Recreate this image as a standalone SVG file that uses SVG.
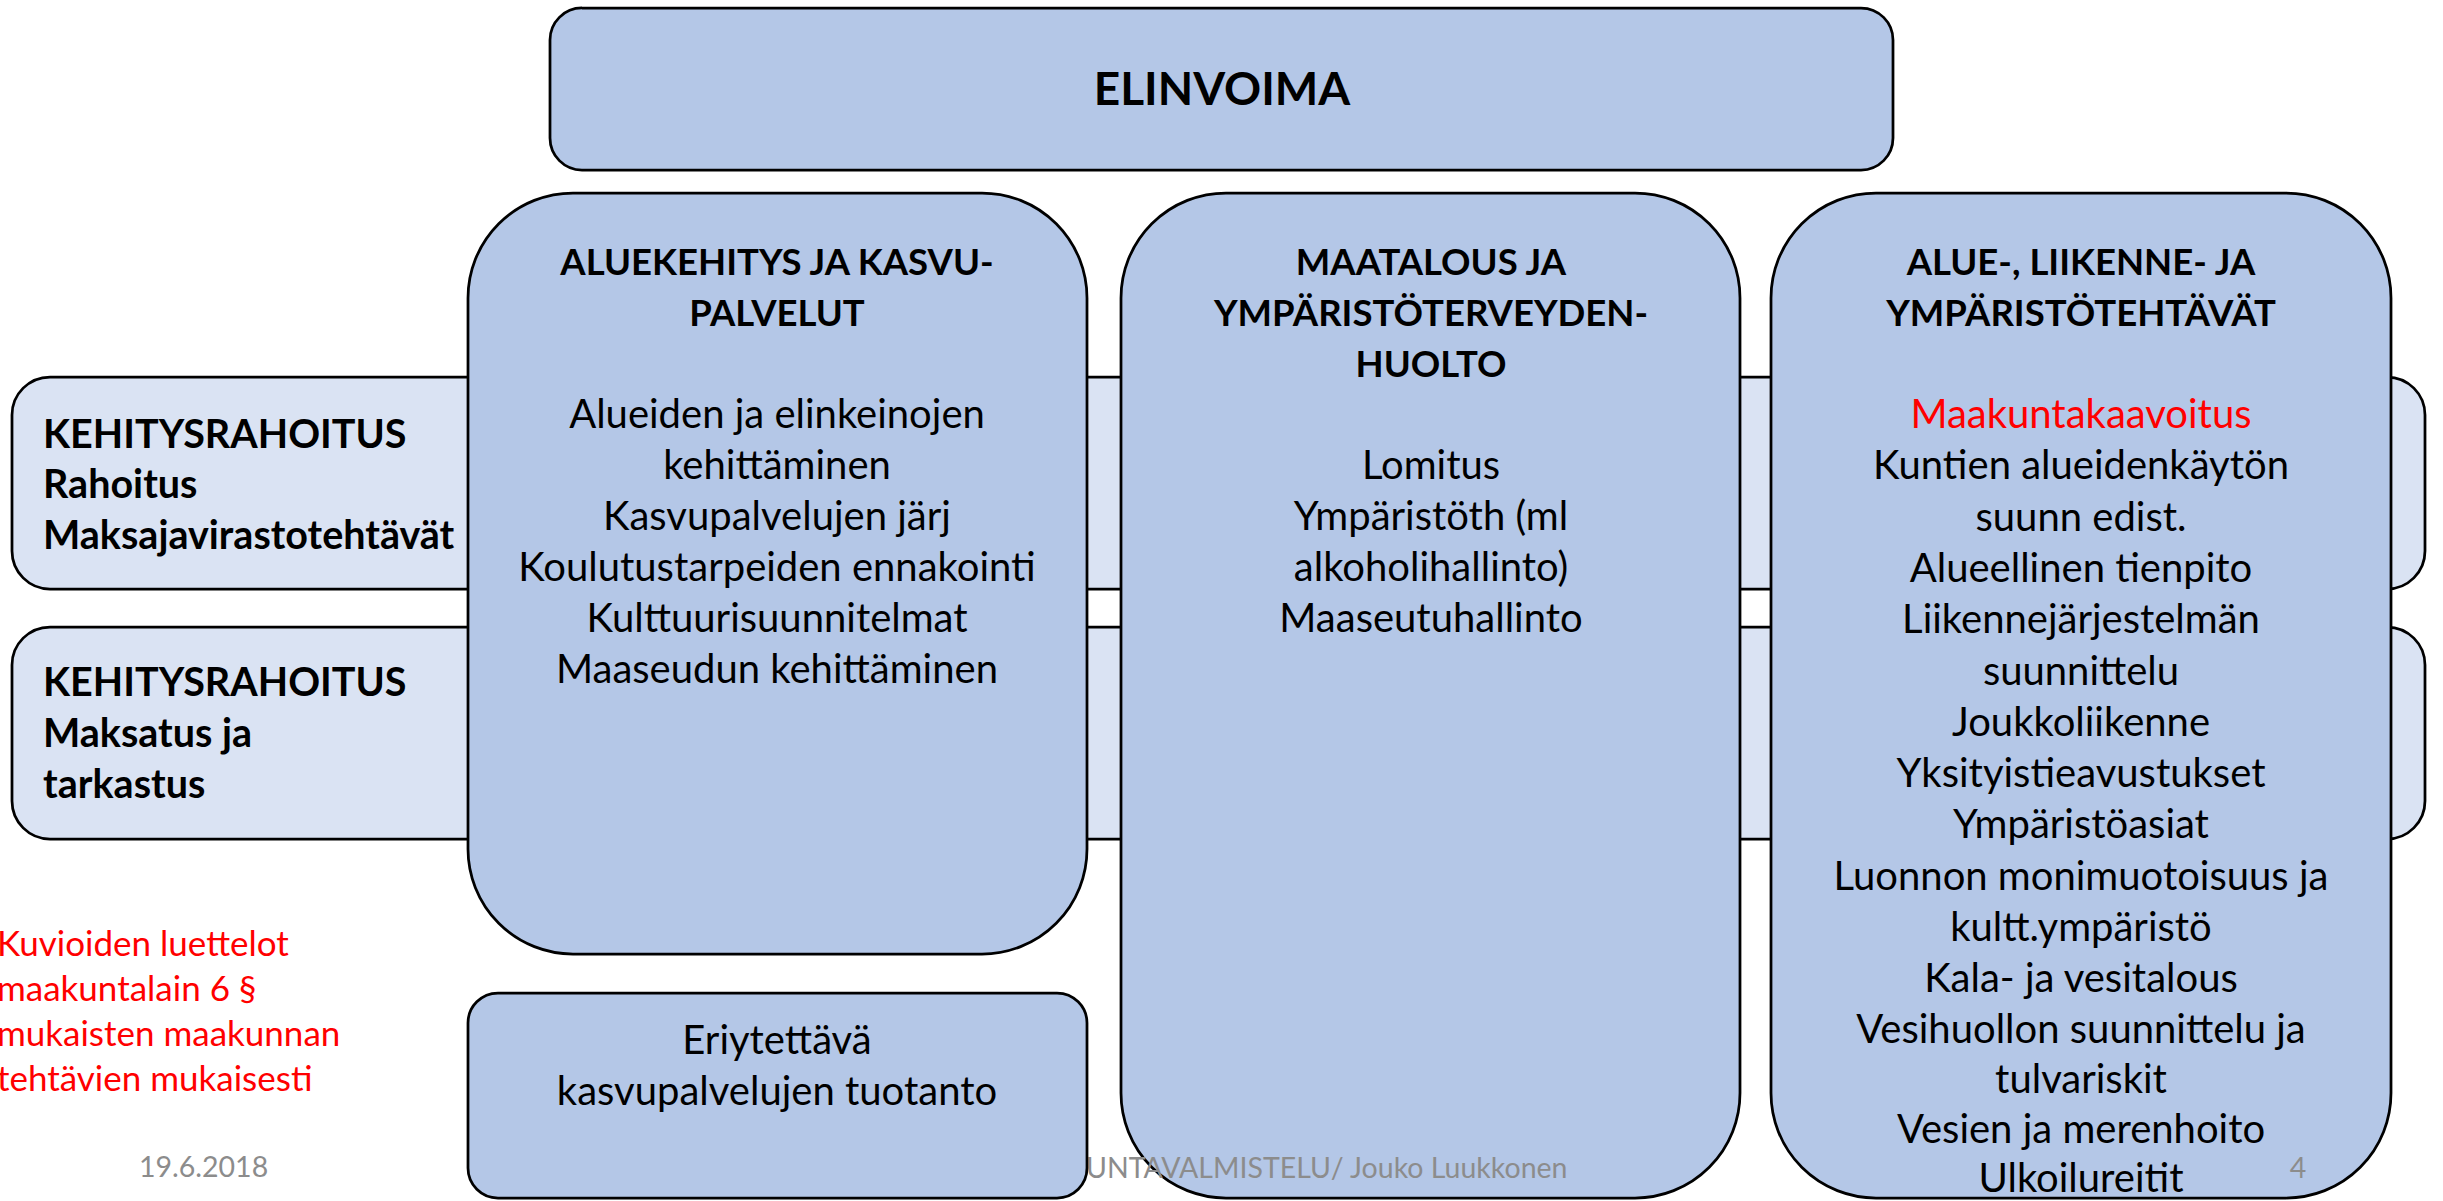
<svg xmlns="http://www.w3.org/2000/svg" width="2443" height="1201" viewBox="0 0 2443 1201">
<style>
.col{fill:#B4C7E7;stroke:#000;stroke-width:2.75}
.row{fill:#DAE3F3;stroke:#000;stroke-width:2.75}
text{font-family:Lato,"Liberation Sans",sans-serif;fill:#000}
.t{font-size:40px;text-anchor:middle}
.h{font-size:36.5px;font-weight:bold;text-anchor:middle}
.r{font-size:39.5px;font-weight:bold}
.red{fill:#FF0000}
.note{font-size:35px;fill:#FF0000}
.ft{font-size:28.5px;fill:#8C8C8C}
</style>
<rect width="2443" height="1201" fill="#fff"/>
<g id="row-rahoitus">
<rect class="row" x="12" y="377" width="2413" height="212" rx="38"/>
<text class="r" x="43" y="448">KEHITYSRAHOITUS</text>
<text class="r" x="43" y="498">Rahoitus</text>
<text class="r" x="43" y="549">Maksajavirastotehtävät</text>
</g>
<g id="row-maksatus">
<rect class="row" x="12" y="627" width="2413" height="212" rx="38"/>
<text class="r" x="43" y="696">KEHITYSRAHOITUS</text>
<text class="r" x="43" y="747">Maksatus ja</text>
<text class="r" x="43" y="798">tarkastus</text>
</g>
<g id="elinvoima">
<rect class="col" x="550" y="8" width="1343" height="162" rx="32"/>
<text x="1222" y="105" style="font-size:46px;font-weight:bold;text-anchor:middle">ELINVOIMA</text>
</g>
<g id="aluekehitys">
<rect class="col" x="468" y="193" width="619" height="761" rx="105"/>
<text class="h" x="777" y="275">ALUEKEHITYS JA KASVU-</text>
<text class="h" x="777" y="326">PALVELUT</text>
<text class="t" x="777" y="428">Alueiden ja elinkeinojen</text>
<text class="t" x="777" y="479">kehittäminen</text>
<text class="t" x="777" y="530">Kasvupalvelujen järj</text>
<text class="t" x="777" y="581">Koulutustarpeiden ennakointi</text>
<text class="t" x="777" y="632">Kulttuurisuunnitelmat</text>
<text class="t" x="777" y="683">Maaseudun kehittäminen</text>
</g>
<g id="maatalous">
<rect class="col" x="1121" y="193" width="619" height="1005" rx="105"/>
<text class="h" x="1431" y="275">MAATALOUS JA</text>
<text class="h" x="1431" y="326">YMPÄRISTÖTERVEYDEN-</text>
<text class="h" x="1431" y="377">HUOLTO</text>
<text class="t" x="1431" y="479">Lomitus</text>
<text class="t" x="1431" y="530">Ympäristöth (ml</text>
<text class="t" x="1431" y="581">alkoholihallinto)</text>
<text class="t" x="1431" y="632">Maaseutuhallinto</text>
</g>
<g id="footer-text">
<text class="ft" x="1086" y="1178">UNTAVALMISTELU/ Jouko Luukkonen</text>
</g>
<g id="alue-liikenne">
<rect class="col" x="1771" y="193" width="620" height="1005" rx="105"/>
<text class="h" x="2081" y="275">ALUE-, LIIKENNE- JA</text>
<text class="h" x="2081" y="326">YMPÄRISTÖTEHTÄVÄT</text>
<text class="t red" x="2081" y="428">Maakuntakaavoitus</text>
<text class="t" x="2081" y="479">Kuntien alueidenkäytön</text>
<text class="t" x="2081" y="531">suunn edist.</text>
<text class="t" x="2081" y="582">Alueellinen tienpito</text>
<text class="t" x="2081" y="633">Liikennejärjestelmän</text>
<text class="t" x="2081" y="685">suunnittelu</text>
<text class="t" x="2081" y="736">Joukkoliikenne</text>
<text class="t" x="2081" y="787">Yksityistieavustukset</text>
<text class="t" x="2081" y="838">Ympäristöasiat</text>
<text class="t" x="2081" y="890">Luonnon monimuotoisuus ja</text>
<text class="t" x="2081" y="941">kultt.ympäristö</text>
<text class="t" x="2081" y="992">Kala- ja vesitalous</text>
<text class="t" x="2081" y="1043">Vesihuollon suunnittelu ja</text>
<text class="t" x="2081" y="1093">tulvariskit</text>
<text class="t" x="2081" y="1143">Vesien ja merenhoito</text>
<text class="t" x="2081" y="1192">Ulkoilureitit</text>
</g>
<g id="eriytettava">
<rect class="col" x="468" y="993" width="619" height="205" rx="30"/>
<text class="t" x="777" y="1054">Eriytettävä</text>
<text class="t" x="777" y="1105">kasvupalvelujen tuotanto</text>
</g>
<g id="note">
<text class="note" x="-3" y="956">Kuvioiden luettelot</text>
<text class="note" x="-3" y="1001">maakuntalain 6 §</text>
<text class="note" x="-3" y="1046">mukaisten maakunnan</text>
<text class="note" x="-3" y="1091">tehtävien mukaisesti</text>
</g>
<g id="footer">
<text class="ft" x="139" y="1177">19.6.2018</text>
<text class="ft" x="2298" y="1178" text-anchor="middle">4</text>
</g>
<g id="connectors"></g>
</svg>
